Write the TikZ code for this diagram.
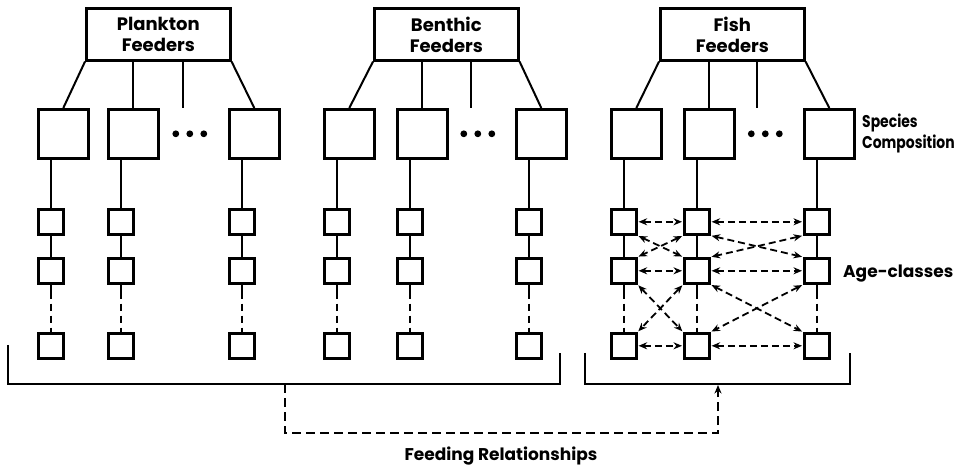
\documentclass[tikz,border=0pt]{standalone}
\usepackage{fontspec}
\usepackage{graphicx}
\setmainfont{Poppins}
\usetikzlibrary{arrows.meta,calc}
\tikzset{
  hdr/.style={draw,line width=2.6pt,minimum width=144pt,minimum height=51.5pt,inner sep=0pt,align=center,
    font=\fontsize{18}{21}\selectfont\bfseries,anchor=north west},
  spbox/.style={draw,line width=2.6pt,minimum width=50pt,minimum height=49pt,inner sep=0pt,anchor=north west},
  agbox/.style={draw,line width=2.6pt,minimum width=25pt,minimum height=25pt,inner sep=0pt,anchor=north west},
  ln/.style={line width=2pt},
  dl/.style={line width=2pt,dash pattern=on 14pt off 5pt on 7pt off 5pt on 7pt off 5pt on 7pt off 5pt},
  farrow/.style={line width=1.8pt,dash pattern=on 7pt off 4pt,
    {Stealth[length=8.5pt,width=7pt]}-{Stealth[length=8.5pt,width=7pt]},shorten <=1pt,shorten >=1pt},
  lbl/.style={font=\fontsize{17}{22}\selectfont\bfseries,inner sep=0pt},
}
\newcommand\feedgroup[6]{%
  \node[hdr] (#1h) at (#2,7.5) {#3};
  \node[spbox] (#1s1) at (#4,108) {};
  \node[spbox] (#1s2) at (#5,108) {};
  \node[spbox] (#1s3) at (#6,108) {};
  \node[agbox] (#1a1) at (#4,208) {};
  \node[agbox] (#1a2) at (#5,208) {};
  \node[agbox] (#1a3) at (#6,208) {};
  \node[agbox] (#1b1) at (#4,257) {};
  \node[agbox] (#1b2) at (#5,257) {};
  \node[agbox] (#1b3) at (#6,257) {};
  \node[agbox] (#1c1) at (#4,332) {};
  \node[agbox] (#1c2) at (#5,332) {};
  \node[agbox] (#1c3) at (#6,332) {};
  \draw[ln] (#1h.south west) -- (#1s1.north);
  \draw[ln] (#1s2.north |- #1h.south) -- (#1s2.north);
  \coordinate (#1d) at ($(#1h.south west)!0.667!(#1h.south east)$);
  \draw[ln] (#1d) -- (#1d |- #1s1.north);
  \draw[ln] (#1h.south east) -- (#1s3.north);
  \foreach \k in {1,2,3}{
    \draw[ln] (#1a\k.north) -- (#1a\k.north |- #1s\k.south);
    \draw[ln] (#1a\k.south) -- (#1b\k.north);
    \draw[dl] (#1b\k.south) -- (#1c\k.north);
  }
  \foreach \k in {-18,-4,10}
    \fill ($(#1s2.east)!0.5!(#1s3.west)+(\k,0)$) circle (3.4pt);
}
\begin{document}
\begin{tikzpicture}[x=1pt,y=-1pt]
\useasboundingbox (0,0) rectangle (964,470);
\feedgroup{P}{85}{Plankton\\Feeders}{37}{107}{228}
\feedgroup{B}{373}{Benthic\\Feeders}{323}{396}{515}
\feedgroup{F}{659}{Fish\\Feeders}{610}{683}{803}
% fish age-class interactions
\foreach \r in {a,b,c}{
  \draw[farrow] (F\r1.east) -- (F\r2.west);
  \draw[farrow] (F\r2.east) -- (F\r3.west);
}
\draw[farrow] (Fa1.south east) -- (Fb2.north west);
\draw[farrow] (Fa2.south west) -- (Fb1.north east);
\draw[farrow] (Fa2.south east) -- (Fb3.north west);
\draw[farrow] (Fa3.south west) -- (Fb2.north east);
\draw[farrow] (Fb1.south east) -- (Fc2.north west);
\draw[farrow] (Fb2.south west) -- (Fc1.north east);
\draw[farrow] (Fb2.south east) -- (Fc3.north west);
\draw[farrow] (Fb3.south west) -- (Fc2.north east);
% labels
\node[lbl,anchor=west] (spc) at (862,134)
  {\scalebox{0.82}[1]{\begin{tabular}{@{}l@{}}Species\\[-1pt]Composition\end{tabular}}};
\node[lbl,anchor=base west] (agc) at (843,278) {Age-classes};
\node[lbl,anchor=base] (fdr) at (501,460) {Feeding Relationships};
% brackets
\draw[ln] (8,345) -- (8,384) -- (560,384) -- (560,353);
\draw[ln] (585,353) -- (585,384) -- (850,384) -- (850,353);
\coordinate (fl) at (285,384);
\coordinate (fr) at (718,384);
\draw[line width=1.8pt,dash pattern=on 9pt off 5pt,-{Stealth[length=8.5pt,width=7pt]},shorten >=1pt]
  (fl) -- ++(0,49) -| (fr);
\end{tikzpicture}
\end{document}
